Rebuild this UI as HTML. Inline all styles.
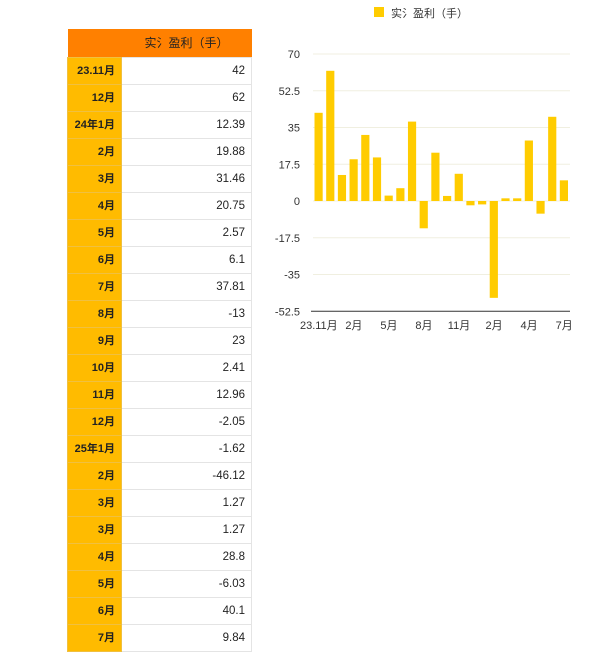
<!DOCTYPE html>
<html><head><meta charset="utf-8"><style>
body{margin:0;width:600px;height:656px;background:#fff;font-family:"Liberation Sans","Noto Sans CJK SC",sans-serif;position:relative;overflow:hidden}
table{position:absolute;left:67px;top:29px;border-collapse:collapse;font-size:11px}
td{height:27px;border:1px solid #e4e4e4;padding:0 6px;text-align:right;color:#222;box-sizing:border-box;vertical-align:middle;line-height:12px}
td.l{width:54px;background:#ffbb00;font-weight:bold;border-color:#f0c040}
td.r{width:130px;font-size:11.5px}
th{height:28px;box-sizing:border-box;background:#ff8000;color:#222;font-weight:normal;font-size:12px;padding:0}
</style></head><body>
<table><tbody id="tb">
<tr><th></th><th>实氵盈利（手）</th></tr>
</tbody></table>
<svg id="c" width="600" height="656" style="position:absolute;left:0;top:0"></svg>
<script>
const categories=["23.11月","12月","24年1月","2月","3月","4月","5月","6月","7月","8月","9月","10月","11月","12月","25年1月","2月","3月","3月","4月","5月","6月","7月"];
const values=[42,62,12.39,19.88,31.46,20.75,2.57,6.1,37.81,-13,23,2.41,12.96,-2.05,-1.62,-46.12,1.27,1.27,28.8,-6.03,40.1,9.84];
const labels=["42","62","12.39","19.88","31.46","20.75","2.57","6.1","37.81","-13","23","2.41","12.96","-2.05","-1.62","-46.12","1.27","1.27","28.8","-6.03","40.1","9.84"];
const yTicks=[70,52.5,35,17.5,0,-17.5,-35,-52.5];
const xTickIdx=[0,3,6,9,12,15,18,21];
const xTickLabels=["23.11月","2月","5月","8月","11月","2月","4月","7月"];
const tb=document.getElementById('tb');
categories.forEach((c,i)=>{
 const tr=document.createElement('tr');
 
 
 tr.innerHTML='<td class="l">'+c+'</td><td class="r">'+labels[i]+'</td>';
 tb.appendChild(tr);
});
const NS='http://www.w3.org/2000/svg',svg=document.getElementById('c');
const x0=313,x1=570,band=(x1-x0)/categories.length;
const y=v=>201-v*2.1;
function el(t,a,txt){const e=document.createElementNS(NS,t);for(const k in a)e.setAttribute(k,a[k]);if(txt!=null)e.textContent=txt;svg.appendChild(e);return e;}
yTicks.forEach(t=>{
 if(t>-52.5){const g=el('line',{x1:x0,x2:x1,y1:y(t),y2:y(t),stroke:'#f0efe0','stroke-width':1});
 
 }
 const l=el('text',{x:300,y:y(t)+4,'text-anchor':'end','font-size':11,fill:'#333'},String(t));
 
 
});
const ax=el('line',{x1:x0-2,x2:x1,y1:y(-52.5),y2:y(-52.5),stroke:'#333','stroke-width':1});


values.forEach((v,i)=>{
 const r=el('rect',{x:x0+i*band+1.5,width:band-3.5,y:Math.min(y(v),y(0)),height:Math.max(Math.abs(y(v)-y(0)),1.5),fill:'#ffcc00'});
 
 
});
xTickIdx.forEach((idx,k)=>{
 const t=el('text',{x:x0+(idx+0.5)*band,y:329,'text-anchor':'middle','font-size':11,fill:'#333'},xTickLabels[k]);
 
 
});
const ls=el('rect',{x:374,y:7,width:10,height:10,fill:'#ffcc00'});


const lt=el('text',{x:391,y:17,'font-size':11,fill:'#333'},'实氵盈利（手）');


</script>
</body></html>
